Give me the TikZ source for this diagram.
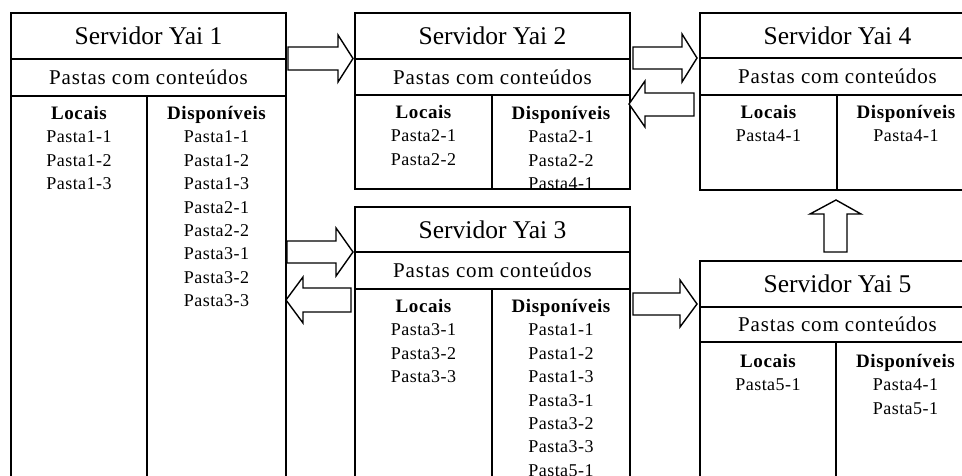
\documentclass[tikz,border=0pt]{standalone}
\usepackage{fontspec}
\setmainfont{Liberation Serif}
\newfontfamily\hdrfont[LetterSpace=4]{Liberation Serif}
\newfontfamily\itemfont[LetterSpace=2.5]{Liberation Serif}
\newfontfamily\colfont[LetterSpace=3]{Liberation Serif}
\newcommand\colhead[1]{{\colfont\bfseries\fontsize{19}{23.4}\selectfont\strut #1}}
\begin{document}
\begin{tikzpicture}[x=1pt,y=-1pt,
  frame/.style={draw, line width=1.7pt, outer sep=0pt, inner sep=0pt},
  titlebox/.style={frame, anchor=north west, minimum width=275, minimum height=46,
    font=\fontsize{25.5}{30}\selectfont},
  hdrbox/.style={frame, anchor=north west, minimum width=275, minimum height=37,
    font=\hdrfont\fontsize{21}{24}\selectfont},
  colbox/.style={frame, anchor=north west},
  items/.style={anchor=north, align=center, inner sep=0pt,
    font=\itemfont\fontsize{18}{23.4}\selectfont},
  blockarrow/.style={draw, line width=1.4pt, fill=white, line join=miter},
]
\useasboundingbox (0,0) rectangle (962,475);

% ---- Servidor Yai 1
\node[titlebox] (t1) at (11,13) {Servidor Yai 1};
\node[hdrbox] (h1) at (t1.south west) {Pastas com conteúdos};
\node[colbox, minimum width=136, minimum height=390] (l1) at (h1.south west) {};
\node[colbox, minimum width=139, minimum height=390] (r1) at (l1.north east) {};
\node[items] (l1t) at ([yshift=-7]l1.north) {\colhead{Locais}\\Pasta1-1\\Pasta1-2\\Pasta1-3};
\node[items] (r1t) at ([yshift=-7]r1.north) {\colhead{Disponíveis}\\Pasta1-1\\Pasta1-2\\Pasta1-3\\Pasta2-1\\Pasta2-2\\Pasta3-1\\Pasta3-2\\Pasta3-3};

% ---- Servidor Yai 2
\node[titlebox] (t2) at (355,13) {Servidor Yai 2};
\node[hdrbox, minimum height=36] (h2) at (t2.south west) {Pastas com conteúdos};
\node[colbox, minimum width=137, minimum height=94] (l2) at (h2.south west) {};
\node[colbox, minimum width=138, minimum height=94] (r2) at (l2.north east) {};
\node[items] (l2t) at ([yshift=-7]l2.north) {\colhead{Locais}\\Pasta2-1\\Pasta2-2};
\begin{scope}
  \clip (r2.north west) rectangle (r2.south east);
  \node[items] (r2t) at ([yshift=-8]r2.north) {\colhead{Disponíveis}\\Pasta2-1\\Pasta2-2\\Pasta4-1};
\end{scope}
\draw[line width=1.7pt] (l2.south west) -- (r2.south east);

% ---- Servidor Yai 3
\node[titlebox, minimum height=45] (t3) at (355,207) {Servidor Yai 3};
\node[hdrbox] (h3) at (t3.south west) {Pastas com conteúdos};
\node[colbox, minimum width=137, minimum height=200] (l3) at (h3.south west) {};
\node[colbox, minimum width=138, minimum height=200] (r3) at (l3.north east) {};
\node[items] (l3t) at ([yshift=-7]l3.north) {\colhead{Locais}\\Pasta3-1\\Pasta3-2\\Pasta3-3};
\node[items] (r3t) at ([yshift=-7]r3.north) {\colhead{Disponíveis}\\Pasta1-1\\Pasta1-2\\Pasta1-3\\Pasta3-1\\Pasta3-2\\Pasta3-3\\Pasta5-1};

% ---- Servidor Yai 4
\node[titlebox, minimum height=45] (t4) at (700,13) {Servidor Yai 4};
\node[hdrbox] (h4) at (t4.south west) {Pastas com conteúdos};
\node[colbox, minimum width=137, minimum height=95] (l4) at (h4.south west) {};
\node[colbox, minimum width=138, minimum height=95] (r4) at (l4.north east) {};
\node[items] (l4t) at ([yshift=-7]l4.north) {\colhead{Locais}\\Pasta4-1};
\node[items] (r4t) at ([yshift=-7]r4.north) {\colhead{Disponíveis}\\Pasta4-1};

% ---- Servidor Yai 5
\node[titlebox] (t5) at (700,261) {Servidor Yai 5};
\node[hdrbox, minimum height=35] (h5) at (t5.south west) {Pastas com conteúdos};
\node[colbox, minimum width=136, minimum height=150] (l5) at (h5.south west) {};
\node[colbox, minimum width=139, minimum height=150] (r5) at (l5.north east) {};
\node[items] (l5t) at ([yshift=-9]l5.north) {\colhead{Locais}\\Pasta5-1};
\node[items] (r5t) at ([yshift=-9]r5.north) {\colhead{Disponíveis}\\Pasta4-1\\Pasta5-1};

% ---- block arrows between the servers
\draw[blockarrow] (288,47) -- (338,47) -- (338,35) -- (353,58.5) -- (338,82) -- (338,70) -- (288,70) -- cycle;
\draw[blockarrow] (633,47) -- (682,47) -- (682,34) -- (697,58) -- (682,82) -- (682,69) -- (633,69) -- cycle;
\draw[blockarrow] (694,93) -- (645,93) -- (645,81) -- (629,104) -- (645,127) -- (645,116) -- (694,116) -- cycle;
\draw[blockarrow] (287,241) -- (336,241) -- (336,228) -- (353,252) -- (336,276) -- (336,263) -- (287,263) -- cycle;
\draw[blockarrow] (351,288) -- (303,288) -- (303,277) -- (286,300) -- (303,323) -- (303,312) -- (351,312) -- cycle;
\draw[blockarrow] (633,293) -- (680,293) -- (680,280) -- (697,304) -- (680,327) -- (680,315) -- (633,315) -- cycle;
\draw[blockarrow] (824,252) -- (824,214) -- (810,214) -- (836,200) -- (861,214) -- (847,214) -- (847,252) -- cycle;
\end{tikzpicture}
\end{document}
